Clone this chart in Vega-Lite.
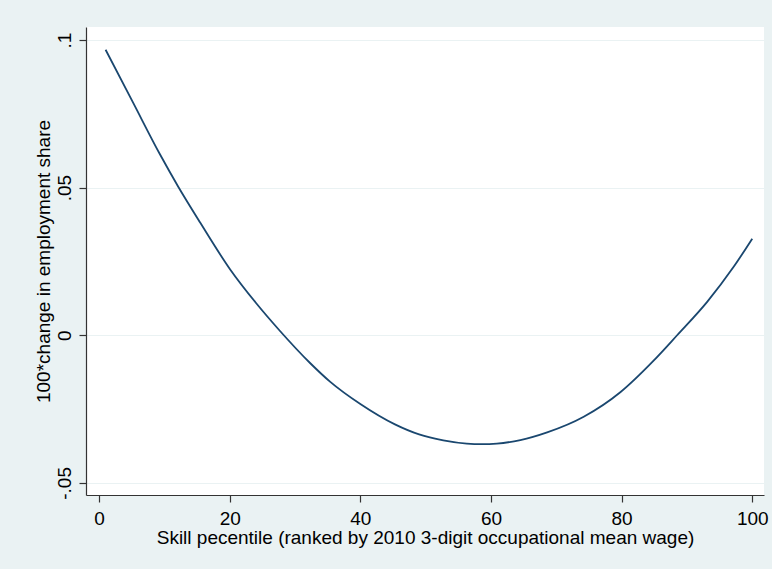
{
  "$schema": "https://vega.github.io/schema/vega-lite/v6.json",
  "width": 678,
  "height": 468,
  "autosize": {"type": "none"},
  "padding": {"left": 86, "top": 27, "right": 8, "bottom": 74},
  "background": "#EAF2F3",
  "config": {
    "view": {"fill": "white", "stroke": null},
    "font": "Liberation Sans",
    "axis": {
      "labelFont": "Liberation Sans",
      "titleFont": "Liberation Sans",
      "labelFontSize": 19,
      "titleFontSize": 19,
      "titleFontWeight": "normal",
      "labelColor": "#000000",
      "titleColor": "#000000",
      "domainColor": "#333333",
      "tickColor": "#333333",
      "tickSize": 7,
      "domainWidth": 1.2,
      "tickWidth": 1.2
    }
  },
  "data": {
    "values": [
      {"x": 1.0, "y": 0.0967},
      {"x": 5.25, "y": 0.0786},
      {"x": 9.34, "y": 0.0612},
      {"x": 12.1, "y": 0.0504},
      {"x": 15.5, "y": 0.0381},
      {"x": 20.1, "y": 0.0222},
      {"x": 24.0, "y": 0.0110},
      {"x": 27.6, "y": 0.0017},
      {"x": 32.3, "y": -0.0094},
      {"x": 35.4, "y": -0.0158},
      {"x": 40.0, "y": -0.0233},
      {"x": 45.3, "y": -0.0302},
      {"x": 49.0, "y": -0.0336},
      {"x": 52.7, "y": -0.0356},
      {"x": 56.3, "y": -0.0367},
      {"x": 58.6, "y": -0.0369},
      {"x": 60.9, "y": -0.0367},
      {"x": 64.5, "y": -0.0355},
      {"x": 68.6, "y": -0.0329},
      {"x": 74.2, "y": -0.0276},
      {"x": 79.8, "y": -0.0193},
      {"x": 84.9, "y": -0.0086},
      {"x": 88.5, "y": 0.0},
      {"x": 93.1, "y": 0.0113},
      {"x": 97.1, "y": 0.0230},
      {"x": 100.0, "y": 0.0327}
    ]
  },
  "mark": {"type": "line", "color": "#1A476F", "strokeWidth": 1.8, "interpolate": "monotone"},
  "encoding": {
    "x": {
      "field": "x",
      "type": "quantitative",
      "scale": {"domain": [-2, 101.8], "nice": false, "zero": false},
      "axis": {
        "values": [0, 20, 40, 60, 80, 100],
        "grid": false,
        "title": "Skill pecentile (ranked by 2010 3-digit occupational mean wage)",
        "labelPadding": 7,
        "titlePadding": 0.5
      }
    },
    "y": {
      "field": "y",
      "type": "quantitative",
      "scale": {"domain": [-0.0541, 0.1044], "nice": false, "zero": false},
      "axis": {
        "values": [-0.05, 0, 0.05, 0.1],
        "labelExpr": "datum.value == 0 ? '0' : datum.value > 0.08 ? '.1' : datum.value > 0 ? '.05' : '-.05'",
        "grid": true,
        "gridColor": "#EAF2F3",
        "gridWidth": 1.2,
        "labelAngle": 270,
        "labelAlign": "center",
        "labelBaseline": "alphabetic",
        "labelPadding": 9,
        "title": "100*change in employment share",
        "titlePadding": 2
      }
    }
  }
}
